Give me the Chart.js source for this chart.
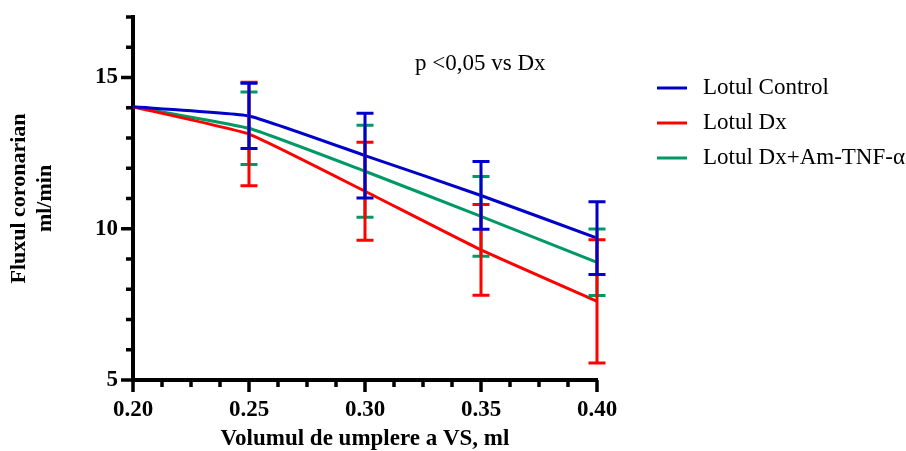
<!DOCTYPE html>
<html>
<head>
<meta charset="utf-8">
<script src="https://cdn.jsdelivr.net/npm/chart.js@4/dist/chart.umd.min.js"></script>
<style>
html, body { margin: 0; padding: 0; background: #fff; }
#wrap { width: 906px; height: 451px; }
</style>
</head>
<body>
<div id="wrap"><canvas id="c"></canvas></div>
<script>
// volumul de umplere (ml)
var volume = [0.20, 0.25, 0.30, 0.35, 0.40];
// medii
var control = [14.03, 13.73, 12.42, 11.10, 9.69];
var dx = [14.03, 13.13, 11.24, 9.30, 7.60];
var tnf = [14.03, 13.32, 11.90, 10.41, 8.89];
// deviatii standard
var controlSd = [0, 1.08, 1.40, 1.12, 1.20];
var dxSd = [0, 1.71, 1.62, 1.50, 2.04];
var tnfSd = [0, 1.20, 1.52, 1.32, 1.10];

var seriesNames = ['Lotul Control', 'Lotul Dx', 'Lotul Dx+Am-TNF-\u03b1'];
var xTickLabels = ['0.20', '0.25', '0.30', '0.35', '0.40'];
var yTickLabels = [5, 10, 15];
var note = 'p <0,05 vs Dx';

var SERIF = '"Liberation Serif", "Times New Roman", serif';

function points(ys) {
    return volume.map(function (v, i) { return { x: v, y: ys[i] }; });
}

function isMajorX(v) {
    return Math.abs(v * 20 - Math.round(v * 20)) < 1e-6;
}

function noPad(s) {
    s.paddingTop = 0; s.paddingBottom = 0;
    s.paddingLeft = 0; s.paddingRight = 0;
}

// bare de eroare (medie +/- SD)
var errorBars = {
    id: 'errorBars',
    afterDatasetsDraw: function (chart) {
        var ctx = chart.ctx, xs = chart.scales.x, ys = chart.scales.y;
        for (var i = chart.data.datasets.length - 1; i >= 0; i--) {
            var ds = chart.data.datasets[i];
            ctx.save();
            ctx.strokeStyle = ds.borderColor;
            ctx.lineWidth = 3;
            ds.data.forEach(function (p, j) {
                var sd = ds.sd[j];
                if (!sd) return;
                var px = xs.getPixelForValue(p.x);
                var top = ys.getPixelForValue(p.y + sd);
                var bot = ys.getPixelForValue(p.y - sd);
                ctx.beginPath();
                ctx.moveTo(px, top); ctx.lineTo(px, bot);
                ctx.moveTo(px - 8.5, top); ctx.lineTo(px + 8.5, top);
                ctx.moveTo(px - 8.5, bot); ctx.lineTo(px + 8.5, bot);
                ctx.stroke();
            });
            ctx.restore();
        }
    }
};

// gradatii mari / mici pe axe, legenda si nota
var decor = {
    id: 'decor',
    afterDraw: function (chart) {
        var ctx = chart.ctx, xs = chart.scales.x, ys = chart.scales.y, a = chart.chartArea;
        ctx.save();
        ctx.strokeStyle = '#000';
        ctx.lineWidth = 3.5;
        xs.ticks.forEach(function (t) {
            var px = xs.getPixelForValue(t.value);
            ctx.beginPath();
            ctx.moveTo(px, a.bottom);
            ctx.lineTo(px, a.bottom + (isMajorX(t.value) ? 12 : 7));
            ctx.stroke();
        });
        ys.ticks.forEach(function (t) {
            var py = ys.getPixelForValue(t.value);
            ctx.beginPath();
            ctx.moveTo(a.left, py);
            ctx.lineTo(a.left - (yTickLabels.indexOf(t.value) >= 0 ? 12 : 7), py);
            ctx.stroke();
        });

        // legenda
        ctx.font = '23px ' + SERIF;
        ctx.textBaseline = 'middle';
        ctx.fillStyle = '#000';
        chart.data.datasets.forEach(function (ds, i) {
            var ly = 88 + i * 35;
            ctx.strokeStyle = ds.borderColor;
            ctx.lineWidth = 3;
            ctx.beginPath();
            ctx.moveTo(657, ly); ctx.lineTo(687, ly);
            ctx.stroke();
            ctx.fillText(ds.label, 703, ly);
        });

        ctx.fillText(note, 415, 64);
        ctx.restore();
    }
};

var ctx = document.getElementById('c').getContext('2d');
var chart = new Chart(ctx, {
    type: 'line',
    data: {
        datasets: [{
            label: seriesNames[0],
            data: points(control),
            sd: controlSd,
            borderColor: '#0000C8'
        }, {
            label: seriesNames[1],
            data: points(dx),
            sd: dxSd,
            borderColor: '#FF0000'
        }, {
            label: seriesNames[2],
            data: points(tnf),
            sd: tnfSd,
            borderColor: '#009966'
        }]
    },
    options: {
        responsive: true,
        maintainAspectRatio: false,
        animation: false,
        events: [],
        layout: {
            autoPadding: false,
            padding: { left: 0, top: 17, right: 309, bottom: 0 }
        },
        elements: {
            line: { borderWidth: 3, tension: 0.12, fill: false },
            point: { radius: 0 }
        },
        plugins: {
            legend: { display: false },
            tooltip: { enabled: false }
        },
        scales: {
            x: {
                type: 'linear',
                min: 0.2,
                max: 0.4,
                afterFit: function (s) { s.height = 71; noPad(s); },
                grid: { display: false, drawTicks: false },
                border: { display: true, color: '#000', width: 4 },
                ticks: {
                    stepSize: 0.0125,
                    autoSkip: false,
                    maxRotation: 0,
                    padding: 16,
                    color: '#000',
                    font: { family: SERIF, size: 23, weight: 'bold' },
                    callback: function (v) {
                        if (!isMajorX(v)) return '';
                        return xTickLabels[Math.round((v - 0.2) * 20)];
                    }
                },
                title: {
                    display: true,
                    text: 'Volumul de umplere a VS, ml',
                    color: '#000',
                    font: { family: SERIF, size: 23, weight: 'bold', lineHeight: 1 },
                    padding: { top: 0, bottom: 0 }
                }
            },
            y: {
                min: 5,
                max: 17,
                afterFit: function (s) { s.width = 133; noPad(s); },
                grid: { display: false, drawTicks: false },
                border: { display: true, color: '#000', width: 4 },
                ticks: {
                    stepSize: 1,
                    autoSkip: false,
                    padding: 15,
                    color: '#000',
                    font: { family: SERIF, size: 23, weight: 'bold' },
                    callback: function (v) {
                        return yTickLabels.indexOf(v) >= 0 ? v : '';
                    }
                },
                title: {
                    display: true,
                    text: ['Fluxul coronarian', 'ml/min'],
                    color: '#000',
                    font: { family: SERIF, size: 22, weight: 'bold', lineHeight: 1.15 },
                    padding: { top: 7, bottom: 0 }
                }
            }
        }
    },
    plugins: [errorBars, decor]
});
</script>
</body>
</html>
